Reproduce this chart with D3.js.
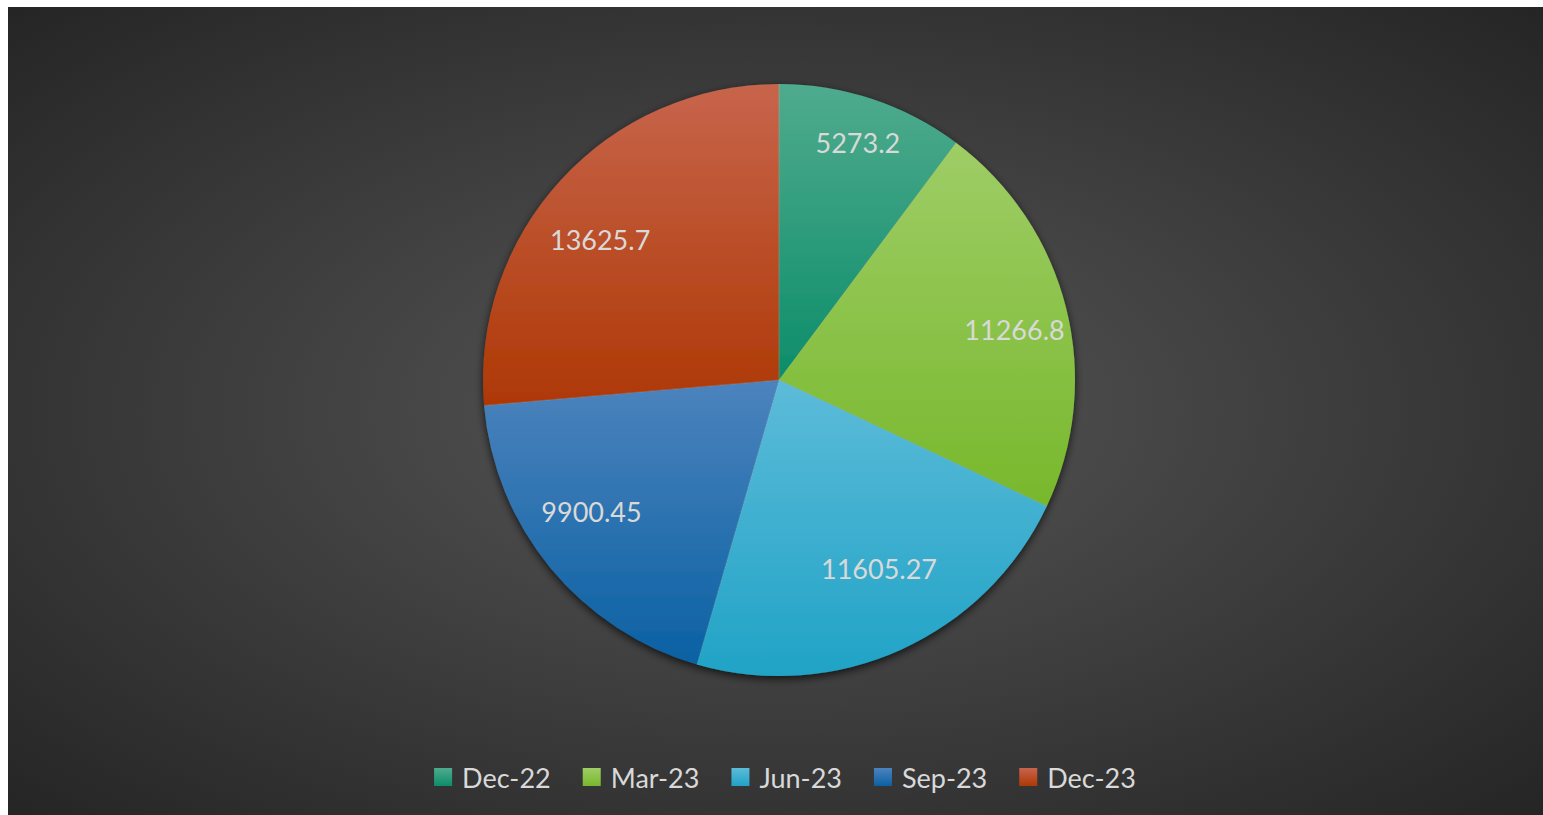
<!DOCTYPE html>
<html>
<head>
<meta charset="utf-8">
<script src="https://cdn.jsdelivr.net/npm/d3@7"></script>
<style>
  html, body { margin: 0; padding: 0; background: #fff; }
  svg { display: block; }
</style>
</head>
<body>
<div id="chart"></div>
<script>
// chart data
const categories = ["Dec-22", "Mar-23", "Jun-23", "Sep-23", "Dec-23"];
const values = [5273.2, 11266.8, 11605.27, 9900.45, 13625.7];
const labels = ["5273.2", "11266.8", "11605.27", "9900.45", "13625.7"];

// slice colours: light top / dark bottom
const topColors = ["#4fab8d", "#9ecd66", "#5dbbd9", "#4c83bd", "#c7654c"];
const bottomColors = ["#0c8d6a", "#78b82c", "#20a3c6", "#0a61a3", "#ae3805"];

const width = 1543, height = 815;
const cx = 779, cy = 380, radius = 296;

const svg = d3.select("#chart")
  .append("svg")
  .attr("width", width)
  .attr("height", height);

const defs = svg.append("defs");

// background gradient
const bg = defs.append("radialGradient")
  .attr("id", "bg")
  .attr("cx", "50%").attr("cy", "50%").attr("r", "72%");
bg.append("stop").attr("offset", "0%").attr("stop-color", "#575757");
bg.append("stop").attr("offset", "100%").attr("stop-color", "#242424");

// slice gradients
categories.forEach(function(c, i) {
  const g = defs.append("linearGradient")
    .attr("id", "slice" + i)
    .attr("x1", 0).attr("y1", 0).attr("x2", 0).attr("y2", 1);
  g.append("stop").attr("offset", "0%").attr("stop-color", topColors[i]);
  g.append("stop").attr("offset", "100%").attr("stop-color", bottomColors[i]);
});

// shadow under the pie
const shadow = defs.append("filter")
  .attr("id", "shadow")
  .attr("x", "-10%").attr("y", "-10%").attr("width", "120%").attr("height", "125%");
shadow.append("feDropShadow")
  .attr("dx", 0).attr("dy", 3)
  .attr("stdDeviation", 4)
  .attr("flood-color", "#000")
  .attr("flood-opacity", 0.7);

svg.append("rect")
  .attr("x", 8).attr("y", 7)
  .attr("width", width - 8).attr("height", height - 7)
  .attr("fill", "url(#bg)");

// pie
const pie = d3.pie().sort(null).value(function(d) { return d; });
const arcs = pie(values);
const arc = d3.arc().innerRadius(0).outerRadius(radius);

const g = svg.append("g")
  .attr("transform", "translate(" + cx + "," + cy + ")");

const pieGroup = g.append("g").attr("filter", "url(#shadow)");

pieGroup.selectAll("path")
  .data(arcs)
  .enter()
  .append("path")
  .attr("d", arc)
  .attr("fill", function(d, i) { return "url(#slice" + i + ")"; })
  .attr("stroke", "none");

// thin separators between slices
g.selectAll(".sep")
  .data(arcs)
  .enter()
  .append("line")
  .attr("x1", 0).attr("y1", 0)
  .attr("x2", function(d) { return radius * Math.sin(d.startAngle); })
  .attr("y2", function(d) { return -radius * Math.cos(d.startAngle); })
  .attr("stroke", "rgba(255,255,255,0.2)")
  .attr("stroke-width", 0.8);

// data labels (best-fit style: wider horizontally for big slices)
g.selectAll(".lbl")
  .data(arcs)
  .enter()
  .append("text")
  .attr("transform", function(d) {
    const span = d.endAngle - d.startAngle;
    const a = (d.startAngle + d.endAngle) / 2;
    let rx = radius * 0.82, ry = radius * 0.7;
    if (span < Math.PI / 4) { rx = radius * 0.845; ry = radius * 0.845; }
    return "translate(" + (rx * Math.sin(a)) + "," + (-ry * Math.cos(a)) + ")";
  })
  .attr("text-anchor", "middle")
  .attr("dominant-baseline", "central")
  .style("font-family", "Lato, 'Open Sans', sans-serif")
  .style("font-size", "27px")
  .attr("fill", "#d9d9d9")
  .text(function(d, i) { return labels[i]; });

// legend
const legend = svg.append("g");
const items = legend.selectAll("g")
  .data(categories)
  .enter()
  .append("g");

items.append("rect")
  .attr("width", 18).attr("height", 18)
  .attr("y", -9)
  .attr("fill", function(d, i) { return "url(#slice" + i + ")"; });

items.append("text")
  .attr("x", 28)
  .attr("dominant-baseline", "central")
  .style("font-family", "Lato, 'Open Sans', sans-serif")
  .style("font-size", "27px")
  .attr("fill", "#d9d9d9")
  .text(function(d) { return d; });

let xPos = 0;
const offsets = [];
items.each(function() {
  offsets.push(xPos);
  xPos += this.getBBox().width + 32;
});
const legendWidth = xPos - 32;
items.attr("transform", function(d, i) { return "translate(" + offsets[i] + ",0)"; });
legend.attr("transform", "translate(" + (cx + 6 - legendWidth / 2) + ",777)");
</script>
</body>
</html>
